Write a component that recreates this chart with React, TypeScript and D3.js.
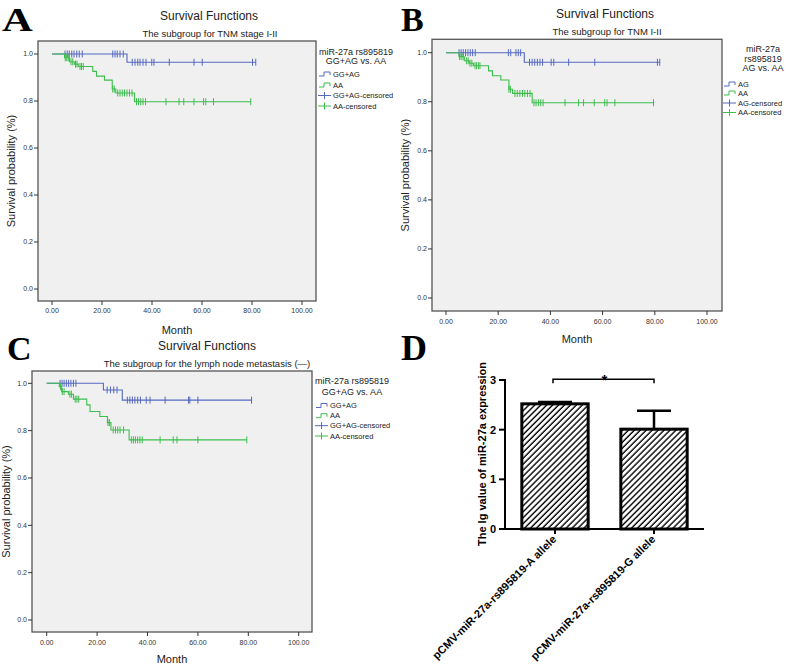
import React from 'react';
import * as d3 from 'd3';

// ---------- shared ticks ----------
const monthTicks = [0, 20, 40, 60, 80, 100];
const survTicks = [0, 0.2, 0.4, 0.6, 0.8, 1.0];

// ---------- Panel A : TNM stage I-II, GG+AG vs AA ----------
const aBlueSteps: [number, number][] = [[30.0, 0.965]];
const aBlueEnd = 81.5;
const aBlueCensored = [5.2, 6.1, 6.9, 7.9, 8.8, 9.9, 10.9, 12.1, 24.3, 25.2, 26.1, 27.2, 28.5, 32.1, 33.2, 34.3, 35.2, 36.4, 37.6, 39.9, 40.8, 46.9, 56.8, 60.1, 80.2, 81.5];
const aGreenSteps: [number, number][] = [[5.0, 0.984], [7.0, 0.967], [8.9, 0.957], [10.5, 0.947], [16.3, 0.926], [17.8, 0.906], [21.0, 0.889], [24.1, 0.851], [25.5, 0.834], [33.0, 0.797]];
const aGreenEnd = 79.5;
const aGreenCensored = [5.3, 5.9, 6.5, 7.6, 8.3, 9.4, 10.0, 11.2, 11.8, 12.5, 24.3, 24.9, 26.3, 27.2, 28.1, 29.0, 30.0, 31.0, 32.0, 33.8, 34.6, 35.5, 36.4, 37.4, 45.6, 50.8, 52.7, 56.8, 60.6, 61.5, 64.6, 79.5];

// ---------- Panel B : TNM I-II, AG vs AA ----------
const bBlueSteps: [number, number][] = [[30.0, 0.961]];
const bBlueEnd = 81.9;
const bBlueCensored = [5.0, 5.8, 6.6, 7.5, 8.4, 9.3, 10.2, 11.2, 23.9, 24.8, 26.8, 27.7, 28.6, 32.0, 33.0, 34.0, 35.0, 36.0, 37.0, 40.3, 41.3, 47.0, 57.0, 81.0, 81.9];
const bGreenSteps: [number, number][] = [[5.0, 0.984], [7.0, 0.967], [8.9, 0.957], [10.5, 0.947], [16.3, 0.926], [17.8, 0.906], [21.0, 0.889], [24.1, 0.851], [25.5, 0.834], [33.0, 0.796]];
const bGreenEnd = 79.5;
const bGreenCensored = [5.2, 5.8, 6.5, 7.9, 8.5, 9.2, 9.9, 11.1, 11.7, 12.4, 13.0, 24.1, 24.7, 26.4, 27.3, 28.3, 29.3, 30.2, 31.2, 32.2, 33.7, 34.5, 35.4, 36.3, 37.2, 45.6, 50.8, 52.7, 56.8, 60.8, 61.7, 64.7, 79.5];

// ---------- Panel C : lymph node metastasis (-) ----------
const cBlueSteps: [number, number][] = [[22.5, 0.972], [30.0, 0.929]];
const cBlueEnd = 81.3;
const cBlueCensored = [5.3, 6.1, 6.9, 7.8, 8.7, 9.6, 10.6, 11.6, 24.0, 25.3, 26.6, 27.9, 32.0, 33.0, 34.0, 35.0, 36.1, 37.2, 39.5, 41.0, 47.0, 56.3, 56.8, 60.0, 81.3];
const cGreenSteps: [number, number][] = [[5.0, 0.986], [5.9, 0.965], [8.6, 0.954], [10.6, 0.933], [15.9, 0.909], [17.2, 0.881], [21.1, 0.86], [24.1, 0.834], [25.5, 0.803], [32.7, 0.761]];
const cGreenEnd = 79.4;
const cGreenCensored = [5.5, 6.2, 6.9, 9.2, 9.8, 11.3, 12.0, 12.7, 24.3, 24.9, 26.4, 27.3, 28.2, 29.1, 30.5, 33.6, 34.4, 35.2, 36.1, 37.0, 37.9, 45.0, 50.2, 51.7, 60.0, 79.4];

// ---------- Panel D : bar chart ----------
const dCategories = ['pCMV-miR-27a-rs895819-A allele', 'pCMV-miR-27a-rs895819-G allele'];
const dMeans = [2.52, 2.01];
const dErrors = [0.035, 0.37];
const dTicks = [0, 1, 2, 3];

const BLUE = '#5468c0';
const GREEN = '#3dbd4c';
const SANS = '"Liberation Sans", Arial, Helvetica, sans-serif';
const SERIF = '"Liberation Serif", "Times New Roman", serif';

type Series = { steps: [number, number][]; end: number; censored: number[]; color: string };

type KMProps = {
  id: string;
  letter: string; letterX: number; letterY: number; letterScale?: number;
  title: string; titleX: number; titleY: number;
  subtitle: string; subX: number; subY: number;
  box: [number, number, number, number];
  xr: [number, number]; yr: [number, number];
  xTickY: number; monthX: number; monthY: number;
  yLabelX: number;
  legendTitle: string[]; legendTitleX: number; legendTitleY: number[];
  legendItems: string[]; legendSymX: number; legendTextX: number; legendYs: number[];
  series: Series[];
  clip?: [number, number, number, number];
};

function survivalAt(steps: [number, number][], t: number) {
  let s = 1;
  for (const [ts, v] of steps) if (ts <= t) s = v;
  return s;
}

function KMPanel(p: KMProps) {
  const x = d3.scaleLinear().domain([0, 100]).range(p.xr);
  const y = d3.scaleLinear().domain([0, 1]).range(p.yr);
  const [l, t, r, b] = p.box;
  const line = d3.line<[number, number]>().x(d => x(d[0])).y(d => y(d[1])).curve(d3.curveStepAfter);
  const content = (
    <g>
      <text x={p.letterX} y={p.letterY} fontFamily={SERIF} fontWeight="bold" fontSize={34}
        transform={p.letterScale ? `translate(${p.letterX},0) scale(${p.letterScale},1) translate(${-p.letterX},0)` : undefined}>{p.letter}</text>
      <text x={p.titleX} y={p.titleY} textAnchor="middle" fontFamily={SANS} fontSize={12} fill="#222">{p.title}</text>
      <text x={p.subX} y={p.subY} textAnchor="middle" fontFamily={SANS} fontSize={9.5} fill="#222">{p.subtitle}</text>
      <rect x={l} y={t} width={r - l} height={b - t} fill="#f0f0f0" stroke="#555" strokeWidth={1.3} />
      {survTicks.map(v => (
        <g key={'y' + v}>
          <line x1={l - 4} x2={l} y1={y(v)} y2={y(v)} stroke="#333" strokeWidth={1} />
          <text x={l - 5} y={y(v)} dy="0.35em" textAnchor="end" fontFamily={SANS} fontSize={7} fill="#333">{v.toFixed(1)}</text>
        </g>
      ))}
      {monthTicks.map(v => (
        <g key={'x' + v}>
          <line x1={x(v)} x2={x(v)} y1={b} y2={b + 4} stroke="#333" strokeWidth={1} />
          <text x={x(v)} y={p.xTickY} dy="0.35em" textAnchor="middle" fontFamily={SANS} fontSize={7} fill="#333">{v.toFixed(2)}</text>
        </g>
      ))}
      <text x={p.monthX} y={p.monthY} textAnchor="middle" fontFamily={SANS} fontSize={11} fill="#222">Month</text>
      <text transform={`translate(${p.yLabelX},${(t + b) / 2}) rotate(-90)`} textAnchor="middle" dy="0.35em" fontFamily={SANS} fontSize={11} fill="#222">Survival probability (%)</text>
      {p.series.map((s, i) => {
        const pts: [number, number][] = [[0, 1], ...s.steps, [s.end, s.steps[s.steps.length - 1][1]]];
        return (
          <g key={'s' + i}>
            <path d={line(pts) || ''} fill="none" stroke={s.color} strokeWidth={1.1} />
            {s.censored.map((c, j) => {
              const sv = survivalAt(s.steps, c);
              return <line key={j} x1={x(c)} x2={x(c)} y1={y(sv) - 3.5} y2={y(sv) + 3.5} stroke={s.color} strokeWidth={1} />;
            })}
          </g>
        );
      })}
      {p.legendTitle.map((tx, i) => (
        <text key={'lt' + i} x={p.legendTitleX} y={p.legendTitleY[i]} textAnchor="middle" fontFamily={SANS} fontSize={9} fill="#222">{tx}</text>
      ))}
      {p.legendItems.map((tx, i) => {
        const yy = p.legendYs[i];
        const col = i % 2 === 0 ? BLUE : GREEN;
        const sx = p.legendSymX;
        return (
          <g key={'li' + i}>
            {i < 2 ? (
              <path d={`M${sx},${yy + 2}H${sx + 5}V${yy - 2}H${sx + 11}V${yy + 1}`} fill="none" stroke={col} strokeWidth={1} />
            ) : (
              <g>
                <line x1={sx - 1} x2={sx + 12} y1={yy} y2={yy} stroke={col} strokeWidth={1} />
                <line x1={sx + 5.5} x2={sx + 5.5} y1={yy - 3.5} y2={yy + 3.5} stroke={col} strokeWidth={1} />
              </g>
            )}
            <text x={p.legendTextX} y={yy} dy="0.35em" fontFamily={SANS} fontSize={7.5} fill="#222">{tx}</text>
          </g>
        );
      })}
    </g>
  );
  if (!p.clip) return content;
  return (
    <g>
      <defs>
        <clipPath id={'clip' + p.id}>
          <rect x={p.clip[0]} y={p.clip[1]} width={p.clip[2]} height={p.clip[3]} />
        </clipPath>
      </defs>
      <g clipPath={`url(#clip${p.id})`}>{content}</g>
    </g>
  );
}

function BarPanel() {
  const xD = d3.scaleBand<string>().domain(dCategories).range([505, 704]).paddingInner(0.33).paddingOuter(0.17);
  const yD = d3.scaleLinear().domain([0, 3]).range([529, 380]);
  const bw = xD.bandwidth();
  const cx = (c: string) => (xD(c) as number) + bw / 2;
  const brY = yD(3) - 0.7;
  return (
    <g>
      <defs>
        <pattern id="hatch" width={4.2} height={10} patternUnits="userSpaceOnUse" patternTransform="rotate(45)">
          <line x1={1} y1={0} x2={1} y2={10} stroke="#000" strokeWidth={1.4} />
        </pattern>
      </defs>
      <text x={401} y={360} fontFamily={SERIF} fontWeight="bold" fontSize={36}>D</text>
      {dCategories.map((c, i) => (
        <g key={c}>
          <rect x={xD(c)} y={yD(dMeans[i])} width={bw} height={yD(0) - yD(dMeans[i])} fill="url(#hatch)" stroke="#000" strokeWidth={3} />
          <line x1={cx(c)} x2={cx(c)} y1={yD(dMeans[i])} y2={yD(dMeans[i] + dErrors[i])} stroke="#000" strokeWidth={2.5} />
          <line x1={cx(c) - 17} x2={cx(c) + 17} y1={yD(dMeans[i] + dErrors[i])} y2={yD(dMeans[i] + dErrors[i])} stroke="#000" strokeWidth={2.5} />
          <line x1={cx(c)} x2={cx(c)} y1={yD(0)} y2={yD(0) + 5} stroke="#000" strokeWidth={2} />
          <text transform={`translate(${cx(c) + 2},${yD(0) + 11}) rotate(-45)`} textAnchor="end" fontFamily={SANS} fontWeight="bold" fontSize={11}>{c}</text>
        </g>
      ))}
      <line x1={505} x2={505} y1={yD(3) - 1} y2={yD(0) + 1} stroke="#000" strokeWidth={2} />
      <line x1={504} x2={704} y1={yD(0)} y2={yD(0)} stroke="#000" strokeWidth={2} />
      {dTicks.map(v => (
        <g key={v}>
          <line x1={499} x2={505} y1={yD(v)} y2={yD(v)} stroke="#000" strokeWidth={2} />
          <text x={496} y={yD(v)} dy="0.36em" textAnchor="end" fontFamily={SANS} fontWeight="bold" fontSize={11}>{v}</text>
        </g>
      ))}
      <text transform={`translate(482,454) rotate(-90)`} textAnchor="middle" dy="0.35em" fontFamily={SANS} fontWeight="bold" fontSize={11}>The lg value of miR-27a expression</text>
      <path d={`M${cx(dCategories[0]) - 2},${brY + 4}V${brY}H${cx(dCategories[1])}V${brY + 4}`} fill="none" stroke="#000" strokeWidth={1.5} />
      <text x={(cx(dCategories[0]) + cx(dCategories[1])) / 2} y={384.5} textAnchor="middle" fontFamily={SANS} fontWeight="bold" fontSize={15}>*</text>
    </g>
  );
}

export default function App() {
  return (
    <svg width={787} height={666} style={{ position: 'absolute', left: 0, top: 0, background: '#fff' }}>
      <rect x={0} y={0} width={787} height={666} fill="#fff" />
      <KMPanel
        id="A" letter="A" letterX={2} letterY={31} letterScale={1.25}
        title="Survival Functions" titleX={209} titleY={20}
        subtitle="The subgroup for TNM stage I-II" subX={210} subY={37}
        box={[38, 41, 316, 301]} xr={[52, 302]} yr={[289, 54]}
        xTickY={311} monthX={177} monthY={334} yLabelX={11}
        legendTitle={['miR-27a rs895819', 'GG+AG vs. AA']} legendTitleX={356} legendTitleY={[55, 64]}
        legendItems={['GG+AG', 'AA', 'GG+AG-censored', 'AA-censored']} legendSymX={319} legendTextX={333} legendYs={[74, 85, 95.5, 106]}
        series={[
          { steps: aBlueSteps, end: aBlueEnd, censored: aBlueCensored, color: BLUE },
          { steps: aGreenSteps, end: aGreenEnd, censored: aGreenCensored, color: GREEN },
        ]}
        clip={[0, 0, 393, 345]}
      />
      <KMPanel
        id="B" letter="B" letterX={401} letterY={31}
        title="Survival Functions" titleX={605} titleY={18}
        subtitle="The subgroup for TNM I-II" subX={607} subY={35}
        box={[432, 39.3, 722, 311]} xr={[446, 707]} yr={[298, 52.7]}
        xTickY={322} monthX={577} monthY={343} yLabelX={405}
        legendTitle={['miR-27a', 'rs895819', 'AG vs. AA']} legendTitleX={763} legendTitleY={[52, 61.5, 71]}
        legendItems={['AG', 'AA', 'AG-censored', 'AA-censored']} legendSymX={724} legendTextX={738} legendYs={[84, 93, 103, 112.5]}
        series={[
          { steps: bBlueSteps, end: bBlueEnd, censored: bBlueCensored, color: BLUE },
          { steps: bGreenSteps, end: bGreenEnd, censored: bGreenCensored, color: GREEN },
        ]}
      />
      <KMPanel
        id="C" letter="C" letterX={7} letterY={360}
        title="Survival Functions" titleX={207} titleY={350}
        subtitle="The subgroup for the lymph node metastasis (—)" subX={207} subY={367}
        box={[32, 371, 312, 632]} xr={[46.7, 298.7]} yr={[620, 383.3]}
        xTickY={643} monthX={172} monthY={663} yLabelX={6}
        legendTitle={['miR-27a rs895819', 'GG+AG vs. AA']} legendTitleX={352} legendTitleY={[384, 394.5]}
        legendItems={['GG+AG', 'AA', 'GG+AG-censored', 'AA-censored']} legendSymX={316} legendTextX={330} legendYs={[405.5, 415.7, 425.7, 436]}
        series={[
          { steps: cBlueSteps, end: cBlueEnd, censored: cBlueCensored, color: BLUE },
          { steps: cGreenSteps, end: cGreenEnd, censored: cGreenCensored, color: GREEN },
        ]}
      />
      <BarPanel />
    </svg>
  );
}
